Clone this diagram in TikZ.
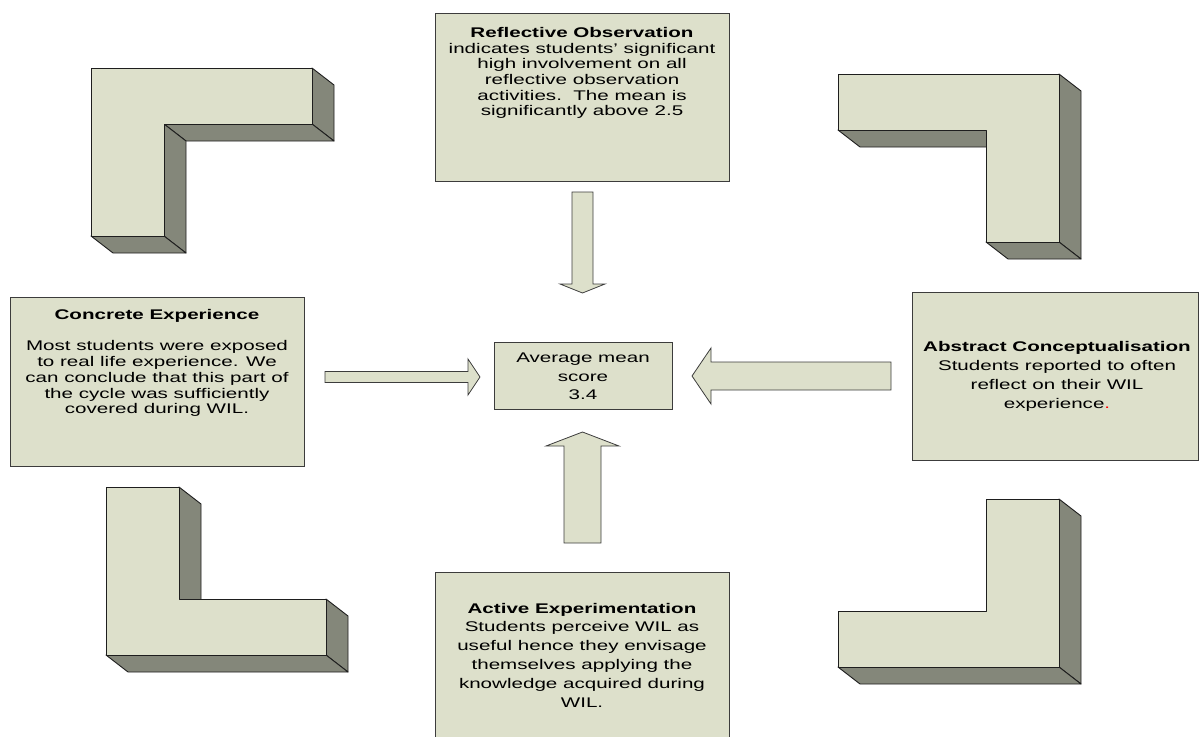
\documentclass[tikz,border=0pt]{standalone}
\usepackage{fontspec}
\setmainfont[FakeStretch=1.47]{Liberation Sans}
\definecolor{facefill}{RGB}{221,224,203}
\definecolor{sidefill}{RGB}{132,135,122}
\definecolor{edgecol}{RGB}{30,30,30}
\definecolor{paneledge}{RGB}{60,60,60}
\begin{document}
\begin{tikzpicture}[x=1pt,y=-1pt,
  face/.style={fill=facefill,draw=edgecol,line width=0.9pt,line join=round},
  side/.style={fill=sidefill,draw=edgecol,line width=0.9pt,line join=round},
  panel/.style={fill=facefill,draw=paneledge,line width=0.9pt,inner sep=0pt,anchor=north west},
  blockarrow/.style={fill=facefill,draw=paneledge,line width=0.8pt,line join=miter},
  txt/.style={inner sep=0pt,align=center,text=black}]
\useasboundingbox (0,0) rectangle (1199,736);
\clip (0,0) rectangle (1199,736);

% ---------- L-shape top-left ----------
\draw[side] (312,68) -- (334,85) -- (334,141) -- (312,124) -- cycle;
\draw[side] (164,124) -- (312,124) -- (334,141) -- (186,141) -- cycle;
\draw[side] (164,124) -- (186,141) -- (186,253) -- (164,236) -- cycle;
\draw[side] (91,236) -- (164,236) -- (186,253) -- (113,253) -- cycle;
\draw[face] (91,68) -- (312,68) -- (312,124) -- (164,124) -- (164,236) -- (91,236) -- cycle;

% ---------- L-shape top-right ----------
\draw[side] (1059,74) -- (1081,91) -- (1081,259) -- (1059,242) -- cycle;
\draw[side] (986,242) -- (1059,242) -- (1081,259) -- (1008,259) -- cycle;
\draw[side] (838,130) -- (986,130) -- (1008,147) -- (860,147) -- cycle;
\draw[face] (838,74) -- (1059,74) -- (1059,242) -- (986,242) -- (986,130) -- (838,130) -- cycle;

% ---------- L-shape bottom-left ----------
\draw[side] (179,487) -- (201,504) -- (201,616) -- (179,599) -- cycle;
\draw[side] (326,599) -- (348,616) -- (348,672) -- (326,655) -- cycle;
\draw[side] (106,655) -- (326,655) -- (348,672) -- (128,672) -- cycle;
\draw[face] (106,487) -- (179,487) -- (179,599) -- (326,599) -- (326,655) -- (106,655) -- cycle;

% ---------- L-shape bottom-right ----------
\draw[side] (1059,499) -- (1081,516) -- (1081,684) -- (1059,667) -- cycle;
\draw[side] (838,667) -- (1059,667) -- (1081,684) -- (860,684) -- cycle;
\draw[face] (986,499) -- (1059,499) -- (1059,667) -- (838,667) -- (838,611) -- (986,611) -- cycle;

% ---------- panels ----------
\node[panel,minimum width=294pt,minimum height=168pt] (ro) at (435,13) {};
\node[panel,minimum width=294pt,minimum height=169pt] (ce) at (10,297) {};
\node[panel,minimum width=178pt,minimum height=67pt] (avg) at (494,342) {};
\node[panel,minimum width=286pt,minimum height=168pt] (ac) at (912,292) {};
\node[panel,minimum width=294pt,minimum height=180pt] (ae) at (435,572) {};

% ---------- texts ----------
\node[txt,font=\fontsize{14}{15.6}\selectfont] (rotext) at (582,73)
  {\textbf{Reflective Observation}\\indicates students’ significant\\high involvement on all\\reflective observation\\activities.\ \ The mean is\\significantly above 2.5};
\node[txt,font=\fontsize{14}{15.7}\selectfont] (cetext) at (157,363)
  {\textbf{Concrete Experience}\\[15.7pt]Most students were exposed\\to real life experience. We\\can conclude that this part of\\the cycle was sufficiently\\covered during WIL.};
\node[txt,font=\fontsize{14}{18.5}\selectfont] (avgtext) at (583,376.5)
  {Average mean\\score\\3.4};
\node[txt,font=\fontsize{14}{19}\selectfont] (actext) at (1057,376.5)
  {\textbf{Abstract Conceptualisation}\\Students reported to often\\reflect on their WIL\\experience\textcolor{red}{.}};
\node[txt,font=\fontsize{14}{18.8}\selectfont] (aetext) at (582,655)
  {\textbf{Active Experimentation}\\Students perceive WIL as\\useful hence they envisage\\themselves applying the\\knowledge acquired during\\WIL.};

% ---------- block arrows ----------
\draw[blockarrow] (572,192) -- (593,192) -- (593,284) -- (605,284) -- (582.5,293)
  -- (560,284) -- (572,284) -- cycle;
\draw[blockarrow] (325,371.5) -- (468,371.5) -- (468,359) -- (480,377) -- (468,395)
  -- (468,382.5) -- (325,382.5) -- cycle;
\draw[blockarrow] (891,362) -- (711,362) -- (711,348) -- (692,376) -- (711,404)
  -- (711,390) -- (891,390) -- cycle;
\draw[blockarrow] (564,543) -- (564,446) -- (546,446) -- (582.5,432) -- (619,446)
  -- (601,446) -- (601,543) -- cycle;
\end{tikzpicture}
\end{document}
